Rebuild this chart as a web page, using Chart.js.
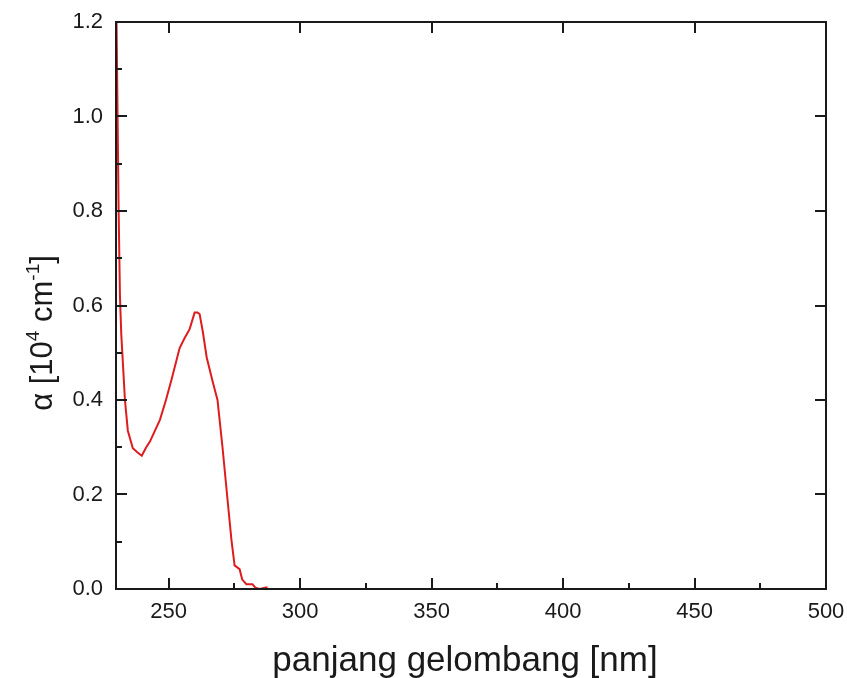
<!DOCTYPE html>
<html>
<head>
<meta charset="utf-8">
<script src="https://cdn.jsdelivr.net/npm/chart.js@4.4.0/dist/chart.umd.min.js"></script>
<style>
  html, body { margin: 0; padding: 0; background: #fff; }
  canvas { display: block; }
</style>
</head>
<body>
<canvas id="absorptionChart" width="847" height="678"></canvas>
<script>
// Absorption spectrum (wavelength in nm, alpha in 10^4 cm^-1)
const wavelengths = [230.2, 230.6, 231.0, 231.5, 232.0, 232.7, 233.4, 234.5, 236.4, 238.0, 239.8, 241.5, 242.9, 246.7, 249.0, 251.2, 254.2, 256.0, 258.0, 259.9, 261.0, 261.8, 263.0, 264.5, 266.7, 268.6, 270.5, 272.4, 273.9, 275.1, 277.0, 278.0, 279.6, 281.9, 283.0, 284.5, 287.6];
const absorption = [1.20, 1.00, 0.80, 0.62, 0.54, 0.47, 0.40, 0.335, 0.298, 0.29, 0.282, 0.30, 0.312, 0.358, 0.40, 0.445, 0.51, 0.53, 0.55, 0.585, 0.585, 0.582, 0.545, 0.49, 0.44, 0.40, 0.30, 0.19, 0.104, 0.05, 0.042, 0.02, 0.01, 0.01, 0.003, 0.0, 0.004];

const xTicks = [250, 300, 350, 400, 450, 500];
const yTicks = [0, 0.2, 0.4, 0.6, 0.8, 1.0, 1.2];
const xMinorTicks = [275, 325, 375, 425, 475];
const yMinorTicks = [0.1, 0.3, 0.5, 0.7, 0.9, 1.1];

const FONT = '"Liberation Sans", Arial, sans-serif';
const INK = '#1a1a1a';

// frame, inward ticks and axis titles
const framePlugin = {
  id: 'frame',
  afterDraw(chart) {
    const {ctx, chartArea: a, scales: {x, y}} = chart;
    ctx.save();
    ctx.strokeStyle = INK;
    ctx.lineWidth = 2;
    ctx.strokeRect(a.left, a.top, a.right - a.left, a.bottom - a.top);

    ctx.beginPath();
    xTicks.forEach(v => {
      const px = Math.round(x.getPixelForValue(v));
      ctx.moveTo(px, a.bottom); ctx.lineTo(px, a.bottom - 11);
      ctx.moveTo(px, a.top); ctx.lineTo(px, a.top + 11);
    });
    xMinorTicks.forEach(v => {
      const px = Math.round(x.getPixelForValue(v));
      ctx.moveTo(px, a.bottom); ctx.lineTo(px, a.bottom - 6);
    });
    yTicks.forEach(v => {
      const py = Math.round(y.getPixelForValue(v));
      ctx.moveTo(a.left, py); ctx.lineTo(a.left + 11, py);
      ctx.moveTo(a.right, py); ctx.lineTo(a.right - 11, py);
    });
    yMinorTicks.forEach(v => {
      const py = Math.round(y.getPixelForValue(v));
      ctx.moveTo(a.left, py); ctx.lineTo(a.left + 6, py);
    });
    ctx.stroke();

    // x title
    ctx.fillStyle = INK;
    ctx.font = `35px ${FONT}`;
    ctx.textAlign = 'center';
    ctx.textBaseline = 'alphabetic';
    ctx.fillText('panjang gelombang [nm]', 465, 671);

    // y title with superscripts
    const parts = [
      {t: 'α [10', size: 31, rise: 0},
      {t: '4', size: 19, rise: 13},
      {t: ' cm', size: 31, rise: 0},
      {t: '-1', size: 19, rise: 13},
      {t: ']', size: 31, rise: 0},
    ];
    let total = 0;
    parts.forEach(p => {
      ctx.font = `${p.size}px ${FONT}`;
      p.w = ctx.measureText(p.t).width;
      total += p.w;
    });
    ctx.translate(52, 333);
    ctx.rotate(-Math.PI / 2);
    ctx.textAlign = 'left';
    let cx = -total / 2;
    parts.forEach(p => {
      ctx.font = `${p.size}px ${FONT}`;
      ctx.fillText(p.t, cx, -p.rise);
      cx += p.w;
    });
    ctx.restore();
  }
};

new Chart(document.getElementById('absorptionChart'), {
  type: 'line',
  data: {
    datasets: [{
      data: wavelengths.map((w, i) => ({x: w, y: absorption[i]})),
      borderColor: 'rgb(222, 28, 30)',
      borderWidth: 2,
      pointRadius: 0,
      tension: 0,
      fill: false,
    }],
  },
  options: {
    responsive: false,
    animation: false,
    layout: {padding: {top: 22, right: 21, left: 0, bottom: 0}},
    plugins: {legend: {display: false}, tooltip: {enabled: false}},
    scales: {
      x: {
        type: 'linear',
        min: 230,
        max: 500,
        afterBuildTicks: s => { s.ticks = xTicks.map(v => ({value: v})); },
        afterFit: s => { s.height = 89; s.paddingLeft = 0; s.paddingRight = 0; },
        grid: {display: false, drawTicks: false},
        border: {display: false},
        ticks: {
          padding: 10,
          color: INK,
          font: {family: FONT, size: 22},
          maxRotation: 0,
          callback: v => String(v),
        },
      },
      y: {
        min: 0,
        max: 1.2,
        afterBuildTicks: s => { s.ticks = yTicks.map(v => ({value: v})); },
        afterFit: s => { s.width = 116; s.paddingTop = 0; s.paddingBottom = 0; },
        grid: {display: false, drawTicks: false},
        border: {display: false},
        ticks: {
          padding: 13,
          color: INK,
          font: {family: FONT, size: 22},
          callback: v => Number(v).toFixed(1),
        },
      },
    },
  },
  plugins: [framePlugin],
});
</script>
</body>
</html>
